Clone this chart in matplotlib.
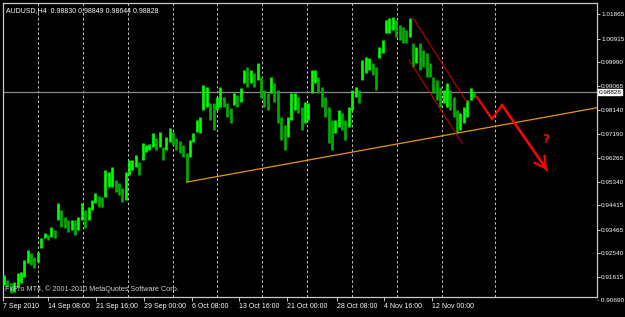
import matplotlib
matplotlib.use("Agg")
import matplotlib.pyplot as plt
import matplotlib.transforms as mtransforms
import numpy as np

# ---------------- data (AUDUSD H4) ----------------
highs = [
    0.9170, 0.9150, 0.9138, 0.9142, 0.9177, 0.9181, 0.9228, 0.9267, 0.9255, 0.9240,
    0.9259, 0.9314, 0.9333, 0.9326, 0.9357, 0.9345, 0.9450, 0.9423, 0.9396, 0.9384,
    0.9384, 0.9384, 0.9396, 0.9450, 0.9423, 0.9435, 0.9462, 0.9489, 0.9478, 0.9474,
    0.9579, 0.9571, 0.9591, 0.9540, 0.9528, 0.9509, 0.9571,
    0.9618, 0.9618, 0.9638, 0.9610, 0.9684, 0.9677, 0.9680, 0.9723, 0.9704, 0.9727,
    0.9669, 0.9708, 0.9743, 0.9727, 0.9704, 0.9692, 0.9677, 0.9645, 0.9696, 0.9723,
    0.9774, 0.9786, 0.9911, 0.9903, 0.9840, 0.9840, 0.9864, 0.9903, 0.9864, 0.9840,
    0.9821, 0.9879, 0.9872, 0.9899, 0.9969,
    0.9981, 0.9969, 0.9957, 0.9996, 0.9942, 0.9891, 0.9879, 0.9942, 0.9918, 0.9891,
    0.9786, 0.9755, 0.9786, 0.9879, 0.9879, 0.9864, 0.9825, 0.9844, 0.9840, 0.9969,
    0.9969, 0.9942, 0.9903, 0.9864, 0.9825, 0.9774, 0.9774, 0.9813, 0.9801, 0.9774,
    0.9825, 0.9891, 0.9903, 0.9891, 1.0008,
    1.0020, 1.0016, 0.9996, 0.9981, 1.0059, 1.0086, 1.0164, 1.0172, 1.0176, 1.0164,
    1.0145, 1.0137, 1.0125, 1.0172, 1.0074, 1.0059, 1.0074, 1.0047, 1.0035, 0.9996,
    0.9942, 0.9930, 0.9903, 0.9891, 0.9918, 0.9891, 0.9864, 0.9813, 0.9801, 0.9825,
    0.9852, 0.9899, 0.98849,
]
lows = [
    0.9131, 0.9123, 0.9099, 0.9103, 0.9123, 0.9138, 0.9162, 0.9216, 0.9209, 0.9197,
    0.9220, 0.9275, 0.9314, 0.9306, 0.9318, 0.9314, 0.9384, 0.9357, 0.9353, 0.9337,
    0.9345, 0.9326, 0.9345, 0.9384, 0.9353, 0.9384, 0.9423, 0.9450, 0.9435, 0.9435,
    0.9474, 0.9513, 0.9513, 0.9493, 0.9482, 0.9454, 0.9462,
    0.9560, 0.9579, 0.9591, 0.9560, 0.9618, 0.9649, 0.9657, 0.9669, 0.9657, 0.9669,
    0.9618, 0.9657, 0.9688, 0.9677, 0.9657, 0.9645, 0.9630, 0.9532, 0.9630, 0.9688,
    0.9727, 0.9723, 0.9813, 0.9825, 0.9774, 0.9735, 0.9813, 0.9825, 0.9825, 0.9786,
    0.9762, 0.9833, 0.9825, 0.9844, 0.9918,
    0.9903, 0.9918, 0.9903, 0.9930, 0.9860, 0.9825, 0.9813, 0.9879, 0.9844, 0.9762,
    0.9696, 0.9657, 0.9708, 0.9774, 0.9813, 0.9801, 0.9735, 0.9762, 0.9774, 0.9879,
    0.9918, 0.9879, 0.9825, 0.9786, 0.9684, 0.9657, 0.9723, 0.9747, 0.9735, 0.9696,
    0.9747, 0.9813, 0.9864, 0.9840, 0.9930,
    0.9957, 0.9969, 0.9950, 0.9891, 1.0016, 1.0035, 1.0113, 1.0113, 1.0125, 1.0098,
    1.0086, 1.0074, 1.0074, 1.0098, 0.9981, 0.9996, 0.9969, 0.9981, 0.9942, 0.9942,
    0.9879, 0.9852, 0.9825, 0.9840, 0.9825, 0.9813, 0.9786, 0.9723, 0.9735, 0.9762,
    0.9786, 0.9852, 0.98644,
]

title_text = "AUDUSD,H4  0.98830 0.98849 0.98644 0.98828"
last_price = 0.98828

price_ticks = [1.01865, 1.00915, 0.99990, 0.99065, 0.98140, 0.97190, 0.96265,
               0.95340, 0.94415, 0.93465, 0.92540, 0.91615]
bottom_tick = 0.90690

time_labels = ["7 Sep 2010", "14 Sep 08:00", "21 Sep 16:00", "29 Sep 00:00",
               "6 Oct 08:00", "13 Oct 16:00", "21 Oct 00:00", "28 Oct 08:00",
               "4 Nov 16:00", "12 Nov 00:00"]
time_label_bars = [-0.3, 13.0, 27.2, 41.4, 55.6, 69.5, 83.7, 98.5, 112.4, 126.6]
grid_bars = [10.1, 23.4, 36.7, 50.0, 63.0, 76.3, 89.6, 102.9, 116.2, 129.5, 145.2]

# user-drawn objects (bar index, price)
trend_pts = [(54, 0.9532), (134, 0.9723)]
chan_upper = [(121.0, 1.0172), (136.9, 0.9844)]
chan_lower = [(119.8, 1.0008), (135.5, 0.9684)]
arrow_path = [(139.9, 0.9864), (144.3, 0.9778), (147.3, 0.9833), (160.6, 0.9579)]
question_pos = (160.3, 0.9700)

# ---------------- figure ----------------
W, H = 625, 317
fig = plt.figure(figsize=(W / 100, H / 100), dpi=100, facecolor="black")
ax = fig.add_axes([3 / W, 20 / H, 594 / W, 294 / H], facecolor="black")

n = len(highs)
x = np.arange(n)
ax.set_xlim(-0.3, 175.4)
ax.set_ylim(0.90839, 1.02305)

# grid
for g in grid_bars:
    ax.axvline(g, color="#c8c8c8", lw=0.7, ls=(0, (2.5, 2.5)), zorder=1)

# bars
hi = np.array(highs)
lo = np.array(lows)
mid = (hi + lo) / 2
cols = ["#00ff00" if (i == 0 or mid[i] >= mid[i - 1]) else "#00b000" for i in range(n)]
ax.vlines(x, lo, hi, colors=cols, lw=1.9, zorder=3)

# last price line
ax.axhline(last_price, color="#8c8c8c", lw=0.9, zorder=2)

# trend line (ray)
(x1, y1), (x2, y2) = trend_pts
slope = (y2 - y1) / (x2 - x1)
xe = 175.4
ax.plot([x1, xe], [y1, y1 + slope * (xe - x1)], color="#e8960c", lw=0.9, zorder=4)

# channel
for seg in (chan_upper, chan_lower):
    ax.plot([p[0] for p in seg], [p[1] for p in seg], color="#c00000", lw=0.8, zorder=4)

# red arrow
ax.plot([p[0] for p in arrow_path], [p[1] for p in arrow_path], color="#ff0000",
        lw=1.6, zorder=5, solid_joinstyle="miter")
ax.annotate("", xy=arrow_path[-1], xytext=arrow_path[-2],
            arrowprops=dict(arrowstyle="->,head_length=0.8,head_width=0.45",
                            color="#ff0000", lw=1.6, shrinkA=0, shrinkB=0),
            zorder=5)
ax.text(question_pos[0], question_pos[1], "?", color="#ff0000", fontsize=8.5,
        fontweight="bold", ha="center", va="center", zorder=5)

# spines
for s in ax.spines.values():
    s.set_color("#c8c8c8")
    s.set_linewidth(0.9)

# y ticks on right
ax.yaxis.tick_right()
ax.set_yticks(price_ticks)
ax.set_yticklabels([f"{v:.5f}" for v in price_ticks])
ax.tick_params(axis="y", colors="#c8c8c8", labelcolor="white", length=2, width=0.7,
               pad=1, labelsize=4.6)
for t in ax.get_yticklabels():
    t.set_fontfamily("Liberation Sans")

trans_y = mtransforms.blended_transform_factory(ax.transAxes, ax.transData)
ax.text(1.0, bottom_tick, "- " + f"{bottom_tick:.5f}", transform=trans_y, color="white",
        fontsize=4.6, family="Liberation Sans", ha="left", va="center", clip_on=False)

# last price box
ax.text(1.003, last_price, f"{last_price:.5f}", transform=trans_y, color="black",
        fontsize=4.6, family="Liberation Sans", ha="left", va="center", clip_on=False,
        zorder=10, bbox=dict(boxstyle="square,pad=0.12", fc="white", ec="white"))

# x ticks
ax.set_xticks(time_label_bars)
ax.set_xticklabels(time_labels)
ax.tick_params(axis="x", colors="#c8c8c8", labelcolor="white", length=3, width=0.7,
               pad=1.5, labelsize=5)
for t in ax.get_xticklabels():
    t.set_ha("left")
    t.set_fontfamily("Liberation Sans")

# title / watermark
ax.text(0.005, 0.985, title_text, transform=ax.transAxes, color="white", fontsize=5,
        family="Liberation Sans", ha="left", va="top")
ax.text(0.003, 0.012, "FxPro MT4, \u00a9 2001-2010 MetaQuotes Software Corp.",
        transform=ax.transAxes, color="#d0d0d0", fontsize=5.2, family="Liberation Sans",
        ha="left", va="bottom", zorder=6)

fig.savefig("out.png", dpi=100, facecolor="black")
